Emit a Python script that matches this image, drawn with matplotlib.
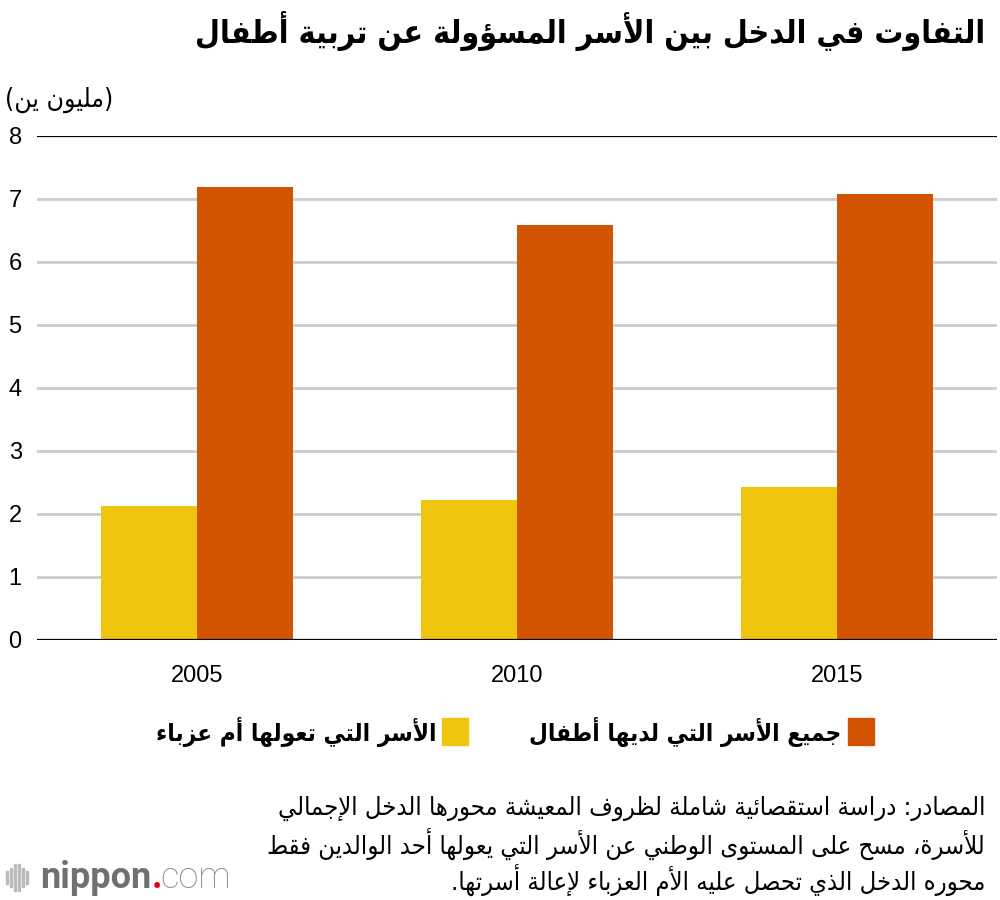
import unicodedata
import matplotlib
matplotlib.use("Agg")
import matplotlib.pyplot as plt
import numpy as np

# chart data
years = ["2005", "2010", "2015"]
single_mother = [2.12, 2.23, 2.43]   # الأسر التي تعولها أم عزباء
all_children = [7.19, 6.59, 7.08]    # جميع الأسر التي لديها أطفال
y_ticks = [0, 1, 2, 3, 4, 5, 6, 7, 8]

title_txt = "التفاوت في الدخل بين الأسر المسؤولة عن تربية أطفال"
unit_txt = "(مليون ين)"
legend_all = "جميع الأسر التي لديها أطفال"
legend_single = "الأسر التي تعولها أم عزباء"
source_lines = [
    "المصادر: دراسة استقصائية شاملة لظروف المعيشة محورها الدخل الإجمالي",
    "للأسرة، مسح على المستوى الوطني عن الأسر التي يعولها أحد الوالدين فقط",
    "محوره الدخل الذي تحصل عليه الأم العزباء لإعالة أسرتها.",
]

YELLOW = "#f1c40f"
ORANGE = "#d35400"


# --- small arabic shaper (matplotlib has no shaping / bidi) ---
FORMS = {}
LAMALEF = {}
for cp in list(range(0xFB50, 0xFE00)) + list(range(0xFE70, 0xFF00)):
    d = unicodedata.decomposition(chr(cp))
    if not d.startswith("<"):
        continue
    tag, rest = d.split(" ", 1)
    tag = tag.strip("<>")
    parts = rest.split()
    if len(parts) == 1:
        FORMS.setdefault(chr(int(parts[0], 16)), {})[tag] = chr(cp)
    elif len(parts) == 2 and parts[0] == "0644" and parts[1] in ("0627", "0623", "0625", "0622"):
        LAMALEF.setdefault(chr(int(parts[1], 16)), {})[tag] = chr(cp)


def joins_next(c):
    f = FORMS.get(c, {})
    return "initial" in f or "medial" in f


def joins_prev(c):
    return "final" in FORMS.get(c, {})


def shape(text):
    out = []
    chars = list(text)
    i = 0
    n = len(chars)
    while i < n:
        c = chars[i]
        if c not in FORMS:
            out.append(c)
            i += 1
            continue
        prev = chars[i - 1] if i > 0 else ""
        jp = prev in FORMS and joins_next(prev) and joins_prev(c)
        if c == "\u0644" and i + 1 < n and chars[i + 1] in LAMALEF:
            forms = LAMALEF[chars[i + 1]]
            out.append(forms["final"] if jp else forms["isolated"])
            i += 2
            continue
        nxt = chars[i + 1] if i + 1 < n else ""
        jn = nxt in FORMS and joins_next(c) and joins_prev(nxt)
        f = FORMS[c]
        if jp and jn and "medial" in f:
            out.append(f["medial"])
        elif jp and "final" in f:
            out.append(f["final"])
        elif jn and "initial" in f:
            out.append(f["initial"])
        else:
            out.append(f.get("isolated", c))
        i += 1
    mirror = {"(": ")", ")": "("}
    return "".join(mirror.get(ch, ch) for ch in reversed(out))


AR = ["DejaVu Sans"]
COND = "condensed"

fig = plt.figure(figsize=(10, 9), dpi=100)
ax = fig.add_axes([0.037, 0.2889, 0.96, 0.56])

x = np.arange(len(years))
w = 0.3
ax.bar(x - w / 2, single_mother, w, color=YELLOW, zorder=3)
ax.bar(x + w / 2, all_children, w, color=ORANGE, zorder=3)

ax.set_xlim(-0.5, len(years) - 0.5)
ax.set_ylim(0, 8)
ax.set_yticks(y_ticks)
ax.set_xticks(x)
ax.set_xticklabels(years)
for t in y_ticks[1:-1]:
    ax.axhline(t, color="#cccccc", lw=2, zorder=1)
ax.axhline(8, color="black", lw=1.6, zorder=2)
ax.axhline(0, color="black", lw=1.6, zorder=4)
for s in ax.spines.values():
    s.set_visible(False)
ax.tick_params(axis="both", length=0, labelsize=17, colors="black")
ax.tick_params(axis="y", pad=11)
ax.tick_params(axis="x", pad=18)
for lab in ax.get_xticklabels() + ax.get_yticklabels():
    lab.set_family(["Liberation Sans", "DejaVu Sans"])

# title and unit
fig.text(0.985, 0.965, shape(title_txt), ha="right", va="center",
         fontsize=23, fontweight="bold", fontstretch=COND, family=AR)
fig.text(0.005, 0.889, shape(unit_txt), ha="left", va="center",
         fontsize=19, fontstretch=COND, family=AR)

# legend
fig.patches.append(plt.Rectangle((0.848, 0.172), 0.026, 0.030, color=ORANGE,
                                 transform=fig.transFigure, figure=fig))
fig.text(0.841, 0.187, shape(legend_all), ha="right", va="center",
         fontsize=17.5, fontweight="bold", fontstretch=COND, family=AR)
fig.patches.append(plt.Rectangle((0.442, 0.172), 0.026, 0.030, color=YELLOW,
                                 transform=fig.transFigure, figure=fig))
fig.text(0.436, 0.187, shape(legend_single), ha="right", va="center",
         fontsize=17.5, fontweight="bold", fontstretch=COND, family=AR)

# source
for k, line in enumerate(source_lines):
    fig.text(0.985, 0.102 - k * 0.040, shape(line), ha="right", va="center",
             fontsize=18.3, fontstretch=COND, family=AR)

# logo
for k, hgt in enumerate([0.014, 0.022, 0.030, 0.030, 0.022, 0.014]):
    fig.patches.append(plt.Rectangle((0.006 + k * 0.004, 0.025 - hgt / 2), 0.0018, hgt,
                                     color="#bbbbbb", transform=fig.transFigure, figure=fig))
t1 = fig.text(0.040, 0.025, "nippon", ha="left", va="center", fontsize=26,
              fontweight="bold", color="#707070", family="Roboto")
fig.canvas.draw()
bb = t1.get_window_extent()
xr = bb.x1 / fig.bbox.width
fig.text(xr, 0.025, ".", ha="left", va="center", fontsize=26, fontweight="bold",
         color="#e60012", family="Roboto")
fig.text(xr + 0.009, 0.025, "com", ha="left", va="center", fontsize=26,
         fontweight="light", color="#8a8a8a", family="Roboto")

fig.savefig("out.png", dpi=100, facecolor="white")
